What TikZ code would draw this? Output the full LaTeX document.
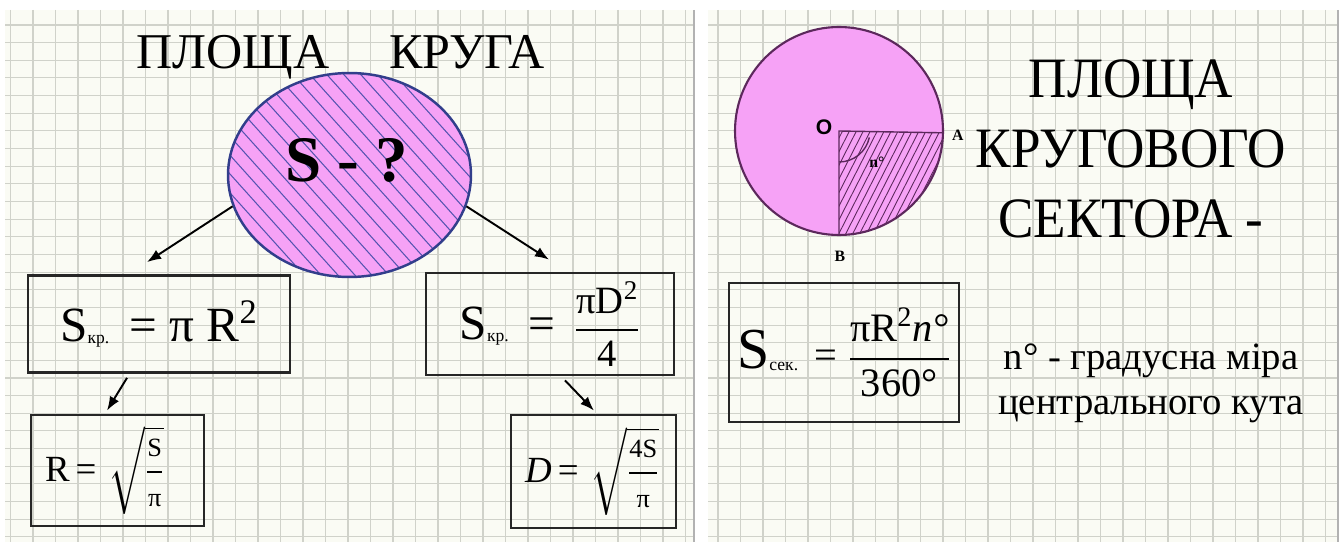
\RequirePackage{fix-cm}
\documentclass[tikz,border=0pt]{standalone}
\usepackage{amsmath}
\usepackage{fontspec}
\setmainfont{Liberation Serif}
\newfontfamily\narrowserif{Liberation Serif}[FakeStretch=0.93]
\newfontfamily\labelsans{Liberation Sans}
\usetikzlibrary{shapes.geometric,calc,arrows.meta}
\definecolor{paper}{RGB}{250,251,244}
\definecolor{gridline}{RGB}{208,210,202}
\definecolor{pinkfill}{RGB}{246,162,246}
\definecolor{ellblue}{RGB}{50,62,140}
\definecolor{hatchblue}{RGB}{84,84,176}
\definecolor{circrim}{RGB}{92,40,92}
\newcommand{\subkr}[1]{{\fontsize{10}{10}\selectfont\raisebox{-1pt}{#1}}}
\newcommand{\fsm}[1]{\text{\fontsize{15}{15}\selectfont #1}}
\begin{document}
\begin{tikzpicture}[x=0.02cm, y=0.02cm, >={Latex[length=8pt,width=6pt]},
  formbox/.style={draw=black!85, line width=1.6pt, inner sep=0pt},
  arr/.style={->, line width=1.1pt},
  gridln/.style={gridline, line width=0.6pt}]
  \useasboundingbox (0,0) rectangle (1344,-547);
  % squared paper, two sheets
  \fill[paper] (5,-10) rectangle (694,-542);
  \fill[paper] (708,-10) rectangle (1338,-542);
  \foreach \gx in {10.5,33,...,690} \draw[gridln] (\gx,-10) -- (\gx,-542);
  \foreach \gx in {718,740.5,...,1336} \draw[gridln] (\gx,-10) -- (\gx,-542);
  \foreach \gy in {25,42.65,...,541} {
    \draw[gridln] (5,-\gy) -- (694,-\gy);
    \draw[gridln] (708,-\gy) -- (1338,-\gy);
  }
  \draw[gray!60, line width=1.5pt] (694,-10) -- (694,-542);
  \draw[gray!60, line width=1.5pt] (1338,-10) -- (1338,-542);

  % left sheet: area of a circle
  \node[anchor=base, font=\fontsize{28.5}{34}\selectfont] (title) at (340.5,-69) {ПЛОЩА\hspace{1.2em}КРУГА};
  \coordinate (ec) at (349.5,-175);
  \fill[pinkfill] (ec) ellipse [x radius=121.5, y radius=102];
  \begin{scope}
    \clip (ec) ellipse [x radius=121.5, y radius=102];
    \foreach \k in {-10,...,10}
      \draw[hatchblue, line width=0.6pt] ($(ec)+(\k*9.36-133.8,\k*8.43+148.6)$) -- ++(267.6,-297.2);
  \end{scope}
  \node[ellipse, draw=ellblue, line width=1.4pt, minimum width=4.86cm, minimum height=4.08cm, inner sep=0pt] (ell) at (ec) {};
  \node[font=\bfseries\fontsize{37}{40}\selectfont] (sq) at (347,-160) {S - ?};

  \node[formbox, minimum width=5.24cm, minimum height=1.94cm, font=\fontsize{28}{30}\selectfont] (box1) at (159,-324)
    {S\subkr{кр.}\ \,=\ π R\textsuperscript{2}};
  \node[formbox, minimum width=4.96cm, minimum height=2.04cm, font=\fontsize{22}{26}\selectfont] (box2) at (550,-324)
    {{\fontsize{28}{30}\selectfont S}\subkr{кр.}\ \ {\fontsize{27}{30}\selectfont =}\ \ $\dfrac{\text{πD\textsuperscript{2}}}{\text{4}}$};
  \node[formbox, minimum width=3.46cm, minimum height=2.22cm, text width=2.9cm, align=left, font=\fontsize{21}{24}\selectfont] (box3) at (117.5,-470.5)
    {\mbox{R\,=\,\,$\sqrt{\dfrac{\fsm{S}}{\fsm{π}}}$}};
  \node[formbox, minimum width=3.3cm, minimum height=2.26cm, text width=2.74cm, align=left, font=\fontsize{21}{24}\selectfont] (box4) at (593.5,-471.5)
    {\mbox{\textit{D}\,=\,\,$\sqrt{\dfrac{\fsm{4S}}{\fsm{π}}}$}};

  \draw[arr] (ell.195) -- ($(box1.north)+(-12,12)$);
  \draw[arr] (ell.-15) -- ($(box2.north)+(-1,12)$);
  \draw[arr] ($(box1.south)+(-32,-4)$) -- ($(box3.north)+(-10.5,3)$);
  \draw[arr] ($(box2.south)+(15,-4)$) -- ($(box4.north)+(0.5,3)$);

  % right sheet: area of a sector
  \coordinate (O) at (839,-131);
  \coordinate (A) at ($(O)+(-1:104)$);
  \coordinate (B) at ($(O)+(-90:104)$);
  \draw[circrim, line width=1.2pt, fill=pinkfill] (O) circle (104);
  \begin{scope}
    \clip (O) -- (A) arc[start angle=-1, end angle=-90, radius=104] -- cycle;
    \foreach \k in {-16,...,16}
      \draw[circrim, line width=0.5pt] ($(O)+(45+\k*5.52,-55-\k*2.81)+(-54.5,-106.9)$) -- ++(109,213.8);
  \end{scope}
  \draw[circrim, line width=0.8pt] (A) -- (O) -- (B);
  \draw[circrim, line width=0.8pt] ($(O)+(-12:31)$) arc[start angle=-12, end angle=-90, radius=31];
  \node[font=\labelsans\bfseries\fontsize{12}{12}\selectfont] (olab) at ($(O)+(-15,4)$) {O};
  \node[font=\bfseries\fontsize{9}{9}\selectfont, anchor=west] (alab) at ($(A)+(3,-2)$) {A};
  \node[font=\bfseries\fontsize{9}{9}\selectfont, anchor=north] (blab) at ($(B)+(1,-10)$) {B};
  \node[font=\bfseries\fontsize{9}{9}\selectfont] (nlab) at ($(O)+(38,-31)$) {n°};

  \node[font=\narrowserif\fontsize{32.5}{39.7}\selectfont, align=center] (sectitle) at (1131,-149) {ПЛОЩА\\КРУГОВОГО\\СЕКТОРА -};

  \node[formbox, minimum width=4.6cm, minimum height=2.78cm, font=\fontsize{23}{26}\selectfont] (box5) at (844,-352.5)
    {{\fontsize{33}{36}\selectfont S}\subkr{сек.}\ \,=\ $\dfrac{\text{πR\textsuperscript{2}\itshape n°}}{\text{360°}}$};
  \node[font=\fontsize{22}{25.5}\selectfont, align=center] (degnote) at (1151,-383) {n° - градусна міра\\центрального кута};
\end{tikzpicture}
\end{document}
